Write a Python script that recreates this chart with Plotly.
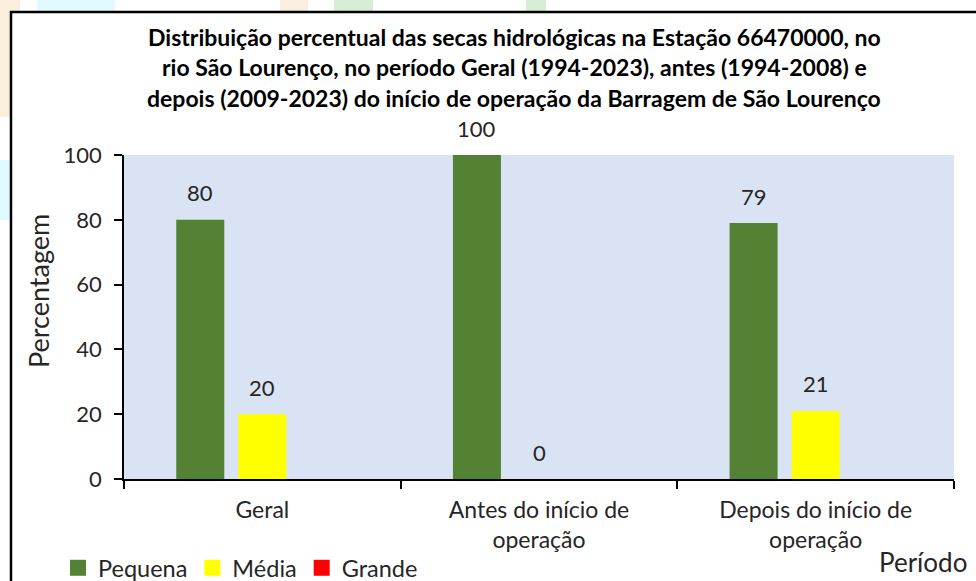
import plotly.graph_objects as go

# Drought class shares (%) per period at station 66470000
periodos = ["Geral", "Antes do início de<br>operação", "Depois do início de<br>operação"]
pequena = [80, 100, 79]
media = [20, 0, 21]
grande = [0, 0, 0]

titulo = [
    "Distribuição percentual das secas hidrológicas na Estação 66470000, no",
    "rio São Lourenço, no período Geral (1994-2023), antes (1994-2008) e",
    "depois (2009-2023) do início de operação da Barragem de São Lourenço",
]

W, H = 976, 581
ML, MR, MT, MB = 124, 22, 155, 102
PW, PH = W - ML - MR, H - MT - MB
FONT = "Lato, 'Open Sans', sans-serif"
TXT = "#262626"


def px(x):
    return (x - ML) / PW


def py(y):
    return (H - MB - y) / PH


fig = go.Figure()
series = [("Pequena", pequena, "#548235"), ("Média", media, "#FFFF00"), ("Grande", grande, "#FF0000")]
for nome, vals, cor in series:
    fig.add_trace(go.Bar(name=nome, x=periodos, y=vals, showlegend=False,
                         marker=dict(color=cor, line=dict(width=0))))
# legend entries with square swatches
for nome, vals, cor in series:
    fig.add_trace(go.Scatter(name=nome, x=[None], y=[None], mode="markers",
                             marker=dict(symbol="square", size=16, color=cor)))

BARGAP = 0.327
slot = (1 - BARGAP) / 3
annotations = []
# value labels for Pequena and Média bars
for k, (nome, vals, cor) in enumerate(series[:2]):
    off = (k - 1) * slot
    for i, v in enumerate(vals):
        annotations.append(dict(x=i + off, y=v, xref="x", yref="y", text=str(v), showarrow=False,
                                yanchor="middle", yshift=27, font=dict(size=22, color=TXT, family=FONT)))

# title lines
for line, yc in zip(titulo, [37, 67, 98]):
    annotations.append(dict(x=px(514), y=py(yc), xref="paper", yref="paper", text=f"<b>{line}</b>",
                            showarrow=False, xanchor="center", yanchor="middle",
                            font=dict(size=23, color="#000000", family=FONT)))

annotations.append(dict(x=px(38), y=py(291), xref="paper", yref="paper", text="Percentagem", textangle=-90,
                        showarrow=False, xanchor="center", yanchor="middle",
                        font=dict(size=27, color=TXT, family=FONT)))
annotations.append(dict(x=px(969), y=py(562), xref="paper", yref="paper", text="Período",
                        showarrow=False, xanchor="right", yanchor="middle",
                        font=dict(size=26, color=TXT, family=FONT)))

shapes = []
# faint background artwork around the frame
for (x0, y0, x1, y1, c) in [
    (0, 0, 20, 12, "#FAEEDD"), (37, 0, 115, 12, "#E0FBFF"), (280, 0, 308, 12, "#FAEEDD"),
    (334, 0, 373, 12, "#D7EED6"), (526, 0, 546, 12, "#D7EED6"),
    (0, 0, 10, 117, "#FAEEDD"), (0, 160, 10, 220, "#E0FBFF"),
]:
    shapes.append(dict(type="rect", xref="paper", yref="paper", x0=px(x0), x1=px(x1), y0=py(y1), y1=py(y0),
                       fillcolor=c, line=dict(width=0), layer="below"))
# chart frame
shapes.append(dict(type="rect", xref="paper", yref="paper", x0=px(11), x1=px(1100), y0=py(700), y1=py(12),
                   line=dict(color="#000000", width=2.5), fillcolor="rgba(0,0,0,0)"))

fig.update_layout(
    width=W, height=H,
    margin=dict(l=ML, r=MR, t=MT, b=MB, autoexpand=False),
    paper_bgcolor="#FFFFFF", plot_bgcolor="#DAE3F3",
    barmode="group", bargap=BARGAP, bargroupgap=0.226,
    font=dict(family=FONT, size=22, color=TXT),
    showlegend=True,
    legend=dict(orientation="h", x=px(58), y=py(546), xanchor="left", yanchor="top",
                font=dict(size=23.5, color=TXT, family=FONT), bgcolor="rgba(0,0,0,0)"),
    annotations=annotations, shapes=shapes,
)
fig.update_xaxes(showline=True, linecolor="#000000", linewidth=1.5, ticks="outside", tickson="boundaries",
                 ticklen=8, tickcolor="#000000", tickwidth=1.5, showgrid=False, automargin=False,
                 ticklabelstandoff=10, tickfont=dict(size=23, color=TXT, family=FONT))
fig.update_yaxes(range=[0, 100], dtick=20, showline=True, linecolor="#000000", linewidth=1.5,
                 ticks="outside", ticklen=8, tickcolor="#000000", tickwidth=1.5, showgrid=False,
                 zeroline=False, automargin=False, ticklabelstandoff=8,
                 tickfont=dict(size=22, color=TXT, family=FONT))

fig.write_html("out.html")
